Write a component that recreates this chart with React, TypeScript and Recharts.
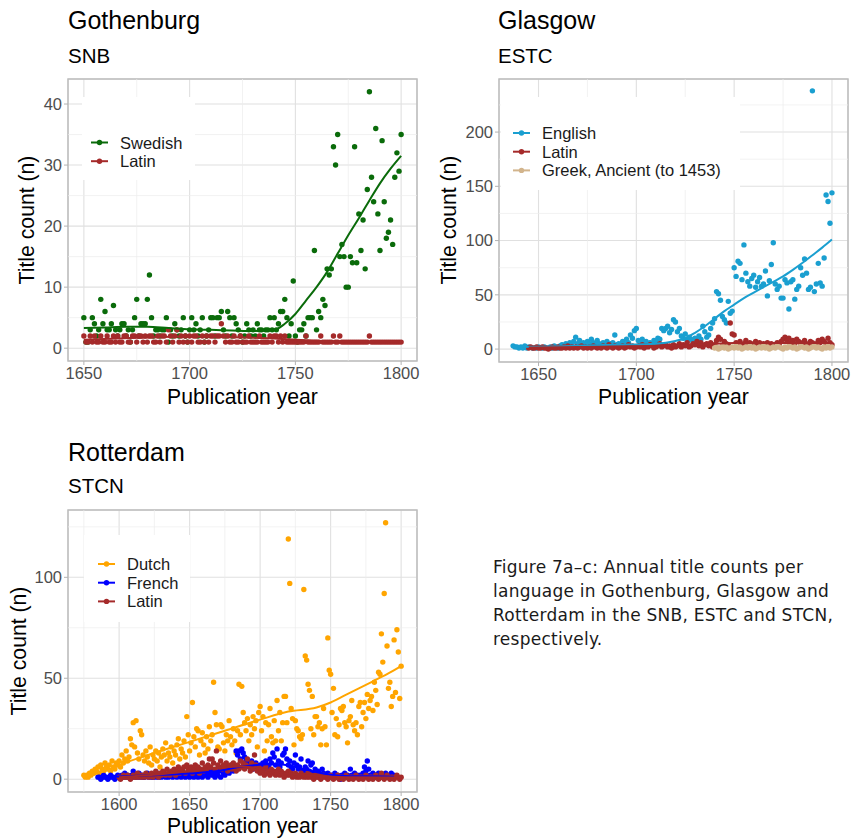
import {
  ScatterChart,
  Scatter,
  XAxis,
  YAxis,
  CartesianGrid,
  ReferenceLine,
  ReferenceArea,
} from "recharts";

// ---- Gothenburg (SNB), one value per year from gothStart ----
const gothStart = 1650;
const gothSwedish = [
  5, 1, 1, 3, 5, 4, 2, 3, 8, 4,
  6, 3, 3, 4, 7, 3, 2, 3, 4, 4,
  2, 3, 1, 3, 5, 8, 2, 4, 4, 4,
  8, 12, 5, 2, 3, 3, 2, 3, 3, 5,
  1, 3, 2, 4, 3, 2, 3, 5, 2, 1,
  3, 5, 3, 4, 2, 3, 5, 1, 2, 3,
  5, 5, 2, 5, 5, 6, 3, 2, 6, 5,
  2, 5, 4, 3, 2, 1, 2, 4, 3, 2,
  3, 2, 4, 3, 3, 2, 3, 3, 5, 3,
  5, 3, 4, 6, 6, 8, 5, 2, 4, 11,
  2, 1, 3, 3, 4, 2, 5, 5, 5, 16,
  3, 6, 5, 8, 7, 13, 12, 13, 33, 30,
  35, 15, 17, 15, 10, 10, 15, 14, 33, 14,
  22, 16, 21, 13, 26, 42, 28, 24, 36, 22,
  16, 34, 24, 18, 19, 21, 17, 28, 32, 29,
  35,
];
const gothLatin = [
  2, 1, 1, 2, 1, 2, 1, 1, 2, 1,
  1, 2, 1, 1, 2, 1, 2, 1, 1, 2,
  2, 1, 1, 2, 2, 1, 2, 2, 1, 2,
  1, 2, 2, 1, 1, 2, 1, 2, 2, 1,
  3, 2, 1, 2, 3, 1, 2, 1, 2, 1,
  2, 1, 2, 2, 1, 1, 2, 1, 2, 1,
  2, 2, 1, 2, 2, 4, 2, 1, 2, 1,
  1, 2, 1, 1, 2, 1, 1, 1, 2, 1,
  1, 1, 1, 2, 1, 1, 1, 1, 2, 1,
  2, 2, 1, 2, 1, 2, 1, 1, 1, 1,
  1, 1, 1, 1, 1, 2, 1, 1, 1, 1,
  1, 1, 2, 1, 1, 1, 1, 1, 2, 1,
  1, 2, 1, 1, 1, 1, 1, 1, 1, 1,
  1, 1, 1, 1, 1, 2, 1, 1, 1, 1,
  1, 1, 1, 1, 1, 1, 1, 1, 1, 1,
  1,
];
const gothSwedishSmooth = [
  [1650, 3.3], [1660, 3.4], [1670, 3.5], [1680, 3.5], [1690, 3.3], [1700, 3.1],
  [1710, 3.0], [1720, 2.9], [1730, 2.8], [1740, 3.0], [1745, 4.0], [1750, 5.6],
  [1755, 7.8], [1760, 10.0], [1765, 12.5], [1770, 15.5], [1775, 18.5], [1780, 21.3],
  [1785, 24.2], [1790, 27.0], [1795, 29.4], [1800, 31.5],
];
const gothLatinSmooth = [
  [1650, 1.4], [1675, 1.7], [1700, 1.9], [1720, 1.8], [1740, 1.6], [1760, 1.2],
  [1780, 1.1], [1800, 1.0],
];

// ---- Glasgow (ESTC) ----
const glaEnglishStart = 1637;
const glaEnglish = [
  3, 2, 2, 1, 2, 1, 3, 1, 2, null, 1, null, 1,
  2, null, 1, 2, null, 1, 2, 1, 3, 2,
  1, 3, 4, 2, 5, 3, 6, 4, 7, 11,
  5, 8, 4, 6, 3, 7, 5, 9, 6, 4,
  8, 5, 3, 6, 4, 7, 3, 5, 6, 13,
  4, 5, 3, 7, 5, 9, 6, 13, 10, 17,
  19, 8, 6, 9, 5, 7, 4, 6, 5, 8,
  6, 10, 9, 19, 17, 19, 21, 15, 18, 27,
  25, 16, 19, 12, 10, 14, 8, 11, 9, 7,
  10, 8, 12, 9, 21, 16, 11, 13, 19, 24,
  28, 53, 51, 45, 30, 27, 24, 44, 33, 35,
  75, 67, 81, 79, 64, 96, 70, 62, 58, 65,
  68, 57, 62, 66, 58, 60, 72, 49, 63, 78,
  98, 60, 55, 58, 47, 47, 64, 61, 37, 62,
  64, 46, 55, 58, 75, 68, 83, 70, 55, 57,
  238, 53, 60, 79, 61, 58, 84, 142, 136, 116,
  144,
];
const glaLatinStart = 1645;
const glaLatin = [
  1, 2, 1, 1, 2,
  1, 1, 2, 1, 1, 0, 1, 2, 1, 1,
  2, 1, 1, 2, 1, 3, 1, 2, 1, 2,
  1, 2, 3, 1, 2, 1, 2, 1, 3, 2,
  1, 2, 1, 3, 2, 1, 4, 2, 1, 3,
  2, 1, 2, 3, 1, 2, 4, 2, 3, 1,
  2, 3, 2, 4, 1, 3, 2, 4, 3, 1,
  2, 3, 5, 2, 3, 4, 2, 3, 1, 4,
  2, 3, 5, 2, 4, 3, 6, 2, 3, 5,
  4, 7, 3, 6, 2, 4, 5, 3, 6, 2,
  4, 8, 11, 9, 3, 7, 5, 4, 24, 14,
  13, 6, 4, 7, 3, 5, 8, 4, 6, 3,
  5, 7, 4, 6, 3, 5, 4, 6, 3, 5,
  4, 3, 6, 4, 7, 9, 11, 8, 10, 6,
  8, 5, 9, 7, 4, 6, 8, 5, 3, 7,
  6, 4, 5, 8, 6, 9, 7, 5, 10, 6,
  4,
];
const glaGreekStart = 1740;
const glaGreek = [
  1, 2, 0, 1, 3, 1, 2, 0, 1, 2,
  1, 3, 1, 2, 0, 1, 2, 1, 3, 1,
  2, 0, 1, 2, 1, 3, 1, 2, 0, 1,
  2, 1, 3, 2, 1, 0, 2, 1, 3, 2,
  1, 2, 0, 1, 3, 2, 1, 2, 0, 1,
  2, 3, 1, 2, 1, 0, 2, 1, 3, 1,
  2,
];
const glaEnglishSmooth = [
  [1637, 2], [1650, 2.2], [1670, 3], [1690, 4], [1710, 5], [1720, 7.5],
  [1725, 10], [1730, 15], [1735, 21], [1740, 28], [1745, 35], [1750, 41],
  [1755, 47], [1760, 52], [1765, 57], [1770, 62], [1775, 67], [1780, 73],
  [1785, 79.5], [1790, 86.5], [1795, 93.5], [1800, 101],
];
const glaLatinSmooth = [
  [1645, 1.5], [1670, 1.9], [1700, 2.6], [1720, 3.4], [1735, 4.5], [1750, 5.5],
  [1770, 5.5], [1800, 5.6],
];
const glaGreekSmooth = [[1741, 2.2], [1770, 1.8], [1800, 1.6]];

// ---- Rotterdam (STCN) ----
const rotDutchStart = 1575;
const rotDutch = [
  2, 1, 2, 1, 3, 2, 4, 3, 5, 4, 6, 3, 7, 5, 4, 8, 6, 5, 7, 4, 9, 6, 5, 8, 7, 9,
  6, 12, 8, 10, 14, 9, 11, 20, 17, 28, 16, 29, 13, 10, 24, 22, 12, 9, 14, 11, 8, 16, 7, 12, 10,
  14, 9, 13, 6, 11, 15, 12, 18, 9, 13, 11, 16, 8, 14, 12, 17, 20, 10, 15, 13, 19, 11, 31, 22, 14,
  18, 38, 21, 16, 25, 24, 12, 19, 23, 17, 13, 21, 15, 26, 19, 22, 48, 33, 27, 16, 15, 27, 26, 18, 14,
  22, 19, 29, 21, 17, 25, 19, 13, 24, 47, 22, 46, 33, 28, 24, 30, 19, 27, 22, 31, 25, 29, 16, 33, 36,
  24, 31, 14, 28, 19, 27, 35, 21, 18, 29, 19, 39, 24, 33, 19, 28, 41, 41, 28, 119, 97, 35, 30, 17, 29,
  25, 24, 21, 20, 22, 94, 61, 59, 47, 44, 25, 41, 22, 31, 31, 26, 28, 17, 25, 35, 26, 17, 70, 54, 52,
  33, 45, 22, 30, 21, 27, 35, 34, 36, 28, 26, 18, 29, 31, 39, 27, 24, 28, 22, 36, 38, 26, 33, 38, 30,
  42, 35, 39, 41, 34, 48, 44, 37, 53, 52, 72, 58, 92, 127, 66, 45, 48, 36, 41, 69, 43, 74, 63, 40, 56,
];
const rotFrenchStart = 1585;
const rotFrench = [
  1, 1, 0, 1, 2, 1, 1, 0, 1, 2, 1, 1, 0, 1, 2, 1,
  1, 2, 1, 3, 1, 2, 1, 1, 2, 4, 1, 2, 1, 3, 1, 2, 1, 1, 2, 3,
  1, 2, 1, 1, 2, 1, 3, 1, 2, 1, 2, 3, 1, 2, 1, 3, 2, 1, 4, 2,
  1, 3, 2, 1, 4, 2, 1, 3, 2, 1, 3, 4, 1, 2, 3, 1, 5, 2, 1, 3,
  2, 4, 1, 3, 5, 2, 4, 1, 3, 2, 4, 1, 5, 3, 2, 4, 6, 3, 5, 7,
  4, 6, 14, 12, 14, 10, 15, 13, 11, 9, 7, 8, 6, 9, 5, 7, 8, 6, 5, 7,
  6, 8, 5, 9, 7, 6, 10, 8, 13, 11, 7, 15, 9, 6, 8, 12, 13, 15, 10, 7,
  9, 6, 5, 8, 12, 7, 5, 6, 10, 4, 3, 6, 5, 9, 4, 7, 8, 3, 5, 2,
  4, 3, 2, 5, 3, 2, 1, 3, 2, 1, 2, 1, 3, 1, 2, 1, 0, 2, 1, 3,
  1, 2, 1, 5, 2, 1, 3, 1, 2, 1, 2, 1, 3, 6, 4, 9, 5, 2, 1, 3,
  1, 2, 1, 3, 1, 2, 1, 2, 3, 1, 2, 1, 3, 1, 2,
];
const rotLatinStart = 1600;
const rotLatin = [
  1,
  0, 1, 2, 1, 1, 2, 1, 0, 1, 2, 1, 1, 3, 1, 2, 1, 2, 1, 3, 2,
  1, 2, 3, 1, 2, 4, 2, 1, 3, 2, 4, 3, 2, 5, 3, 2, 4, 3, 5, 2,
  4, 6, 3, 5, 4, 6, 3, 7, 5, 4, 6, 3, 5, 7, 4, 6, 3, 5, 8, 4,
  6, 5, 7, 10, 6, 10, 8, 5, 14, 7, 6, 9, 5, 7, 6, 8, 4, 6, 7, 5,
  8, 6, 4, 7, 5, 9, 6, 8, 5, 7, 10, 6, 4, 8, 5, 12, 7, 4, 6, 3,
  5, 4, 2, 6, 3, 4, 2, 5, 3, 4, 2, 3, 5, 2, 4, 3, 1, 3, 2, 4,
  2, 3, 1, 2, 3, 1, 2, 1, 3, 2, 1, 2, 1, 3, 1, 2, 1, 0, 2, 1,
  1, 2, 0, 1, 2, 1, 1, 0, 1, 2, 1, 0, 1, 1, 2, 0, 1, 1, 0, 1,
  2, 1, 0, 1, 1, 0, 1, 2, 1, 0, 1, 1, 0, 1, 2, 1, 0, 1, 1, 0,
  1, 2, 1, 0, 1, 3, 1, 0, 1, 2, 1, 0, 1, 1, 0, 1, 2, 1, 0, 1,
];
const rotDutchSmooth = [
  [1575, 1], [1590, 4], [1600, 7], [1625, 13], [1650, 18.5], [1675, 24],
  [1700, 29.5], [1720, 33.5], [1740, 35.5], [1750, 38], [1760, 41.5], [1770, 45],
  [1780, 48.5], [1790, 52], [1800, 56],
];
const rotFrenchSmooth = [
  [1585, 1], [1600, 1.3], [1625, 2], [1650, 2.8], [1670, 4], [1685, 6],
  [1700, 7.2], [1710, 7.5], [1720, 6.8], [1730, 5.2], [1740, 3.5], [1750, 2.2],
  [1760, 1.6], [1775, 1.4], [1795, 1.2],
];
const rotLatinSmooth = [
  [1600, 1], [1625, 2.2], [1650, 4], [1670, 5.5], [1685, 6.3], [1695, 5.8],
  [1705, 4.5], [1720, 2.8], [1740, 1.6], [1760, 1], [1800, 0.8],
];

type Pt = { year: number; n: number };

const toPoints = (start: number, vals: (number | null)[]): Pt[] =>
  vals
    .map((n, i) => ({ year: start + i, n }))
    .filter((d): d is Pt => d.n !== null);

const toCurve = (pairs: number[][]): Pt[] => pairs.map(([year, n]) => ({ year, n }));

type Series = { name: string; color: string; points: Pt[]; smooth: Pt[] };

const GREEN = "#0A6B0A";
const BROWN = "#A52A2A";
const SKY = "#1A9FD0";
const TAN = "#D2B48C";
const ORANGE = "#FFA500";
const BLUE = "#0000FF";

const gothSeries: Series[] = [
  { name: "Swedish", color: GREEN, points: toPoints(gothStart, gothSwedish), smooth: toCurve(gothSwedishSmooth) },
  { name: "Latin", color: BROWN, points: toPoints(gothStart, gothLatin), smooth: toCurve(gothLatinSmooth) },
];
const glaSeries: Series[] = [
  { name: "English", color: SKY, points: toPoints(glaEnglishStart, glaEnglish), smooth: toCurve(glaEnglishSmooth) },
  { name: "Latin", color: BROWN, points: toPoints(glaLatinStart, glaLatin), smooth: toCurve(glaLatinSmooth) },
  { name: "Greek, Ancient (to 1453)", color: TAN, points: toPoints(glaGreekStart, glaGreek), smooth: toCurve(glaGreekSmooth) },
];
const rotSeries: Series[] = [
  { name: "Dutch", color: ORANGE, points: toPoints(rotDutchStart, rotDutch), smooth: toCurve(rotDutchSmooth) },
  { name: "French", color: BLUE, points: toPoints(rotFrenchStart, rotFrench), smooth: toCurve(rotFrenchSmooth) },
  { name: "Latin", color: BROWN, points: toPoints(rotLatinStart, rotLatin), smooth: toCurve(rotLatinSmooth) },
];

const FONT = "'Liberation Sans', Arial, sans-serif";
const tickStyle = { fill: "#4D4D4D", fontSize: 16.5, fontFamily: FONT };

type PanelProps = {
  plot: { x: number; y: number; w: number; h: number };
  xDomain: [number, number];
  yDomain: [number, number];
  xTicks: number[];
  yTicks: number[];
  xMinor: number[];
  yMinor: number[];
  series: Series[];
};

function Panel({ plot, xDomain, yDomain, xTicks, yTicks, xMinor, yMinor, series }: PanelProps) {
  return (
    <div style={{ position: "absolute", left: plot.x - 60, top: plot.y - 10 }}>
      <ScatterChart
        width={plot.w + 66}
        height={plot.h + 40}
        margin={{ top: 10, right: 6, bottom: 0, left: 0 }}
      >
        <CartesianGrid stroke="#E0E0E0" strokeWidth={1.1} />
        {xMinor.map((v) => (
          <ReferenceLine key={"xm" + v} x={v} stroke="#EDEDED" strokeWidth={0.7} />
        ))}
        {yMinor.map((v) => (
          <ReferenceLine key={"ym" + v} y={v} stroke="#EDEDED" strokeWidth={0.7} />
        ))}
        <XAxis
          type="number"
          dataKey="year"
          domain={xDomain}
          ticks={xTicks}
          interval={0}
          allowDataOverflow
          axisLine={false}
          tickLine={{ stroke: "#B3B3B3" }}
          tickSize={4}
          tickMargin={2}
          tick={tickStyle}
          height={30}
        />
        <YAxis
          type="number"
          dataKey="n"
          domain={yDomain}
          ticks={yTicks}
          interval={0}
          allowDataOverflow
          axisLine={false}
          tickLine={{ stroke: "#B3B3B3" }}
          tickSize={4}
          tickMargin={2}
          tick={tickStyle}
          width={60}
        />
        {series.map((s) => (
          <Scatter
            key={s.name + "-pts"}
            data={s.points}
            fill={s.color}
            isAnimationActive={false}
            shape={(p: any) => <circle cx={p.cx} cy={p.cy} r={2.7} fill={s.color} />}
          />
        ))}
        {series.map((s) => (
          <Scatter
            key={s.name + "-fit"}
            data={s.smooth}
            fill={s.color}
            isAnimationActive={false}
            line={{ stroke: s.color, strokeWidth: 2, fill: "none" }}
            lineJointType="monotoneX"
            shape={() => <g />}
          />
        ))}
        <ReferenceArea
          x1={xDomain[0]}
          x2={xDomain[1]}
          y1={yDomain[0]}
          y2={yDomain[1]}
          fill="none"
          stroke="#BDBDBD"
          strokeWidth={1.5}
        />
      </ScatterChart>
    </div>
  );
}

type LegendBox = {
  box: { x: number; y: number; w: number; h: number };
  keyX: number;
  textX: number;
  firstRow: number;
  series: Series[];
};

function Legend({ box, keyX, textX, firstRow, series }: LegendBox) {
  return (
    <g>
      <rect x={box.x} y={box.y} width={box.w} height={box.h} fill="#FFFFFF" />
      {series.map((s, i) => {
        const cy = firstRow + i * 18.7;
        return (
          <g key={s.name}>
            <line x1={keyX} x2={keyX + 17} y1={cy} y2={cy} stroke={s.color} strokeWidth={2} />
            <circle cx={keyX + 8.5} cy={cy} r={2.7} fill={s.color} />
            <text x={textX} y={cy + 6} fontSize={16.5} fill="#1A1A1A" fontFamily={FONT}>
              {s.name}
            </text>
          </g>
        );
      })}
    </g>
  );
}

export default function App() {
  return (
    <div
      style={{
        position: "absolute",
        left: 0,
        top: 0,
        width: 856,
        height: 840,
        overflow: "hidden",
        background: "#FFFFFF",
      }}
    >
      <Panel
        plot={{ x: 68, y: 79, w: 349, h: 282 }}
        xDomain={[1642.5, 1807.5]}
        yDomain={[-2.1, 44.1]}
        xTicks={[1650, 1700, 1750, 1800]}
        yTicks={[0, 10, 20, 30, 40]}
        xMinor={[1675, 1725, 1775]}
        yMinor={[5, 15, 25, 35]}
        series={gothSeries}
      />
      <Panel
        plot={{ x: 499, y: 79, w: 349, h: 283 }}
        xDomain={[1629.8, 1808.2]}
        yDomain={[-11.9, 248.9]}
        xTicks={[1650, 1700, 1750, 1800]}
        yTicks={[0, 50, 100, 150, 200]}
        xMinor={[1675, 1725, 1775]}
        yMinor={[25, 75, 125, 175, 225]}
        series={glaSeries}
      />
      <Panel
        plot={{ x: 68, y: 510, w: 349, h: 282 }}
        xDomain={[1563.75, 1811.25]}
        yDomain={[-6.35, 133.35]}
        xTicks={[1600, 1650, 1700, 1750, 1800]}
        yTicks={[0, 50, 100]}
        xMinor={[1575, 1625, 1675, 1725, 1775]}
        yMinor={[25, 75, 125]}
        series={rotSeries}
      />
      <svg
        width={856}
        height={840}
        style={{ position: "absolute", left: 0, top: 0, pointerEvents: "none" }}
      >
        <g fontFamily={FONT} fill="#000000">
          <text x={68} y={29} fontSize={25}>Gothenburg</text>
          <text x={68} y={63} fontSize={20.5}>SNB</text>
          <text x={498} y={29} fontSize={25}>Glasgow</text>
          <text x={498} y={63} fontSize={20.5}>ESTC</text>
          <text x={68} y={461} fontSize={25}>Rotterdam</text>
          <text x={68} y={493} fontSize={20.5}>STCN</text>

          <text x={242.5} y={404} fontSize={21.2} textAnchor="middle">Publication year</text>
          <text x={673.5} y={404} fontSize={21.2} textAnchor="middle">Publication year</text>
          <text x={242.5} y={833} fontSize={21.2} textAnchor="middle">Publication year</text>

          <text transform="translate(34,220) rotate(-90)" fontSize={21.2} textAnchor="middle">Title count (n)</text>
          <text transform="translate(456,220) rotate(-90)" fontSize={21.2} textAnchor="middle">Title count (n)</text>
          <text transform="translate(26,651) rotate(-90)" fontSize={21.2} textAnchor="middle">Title count (n)</text>
        </g>

        <Legend box={{ x: 82, y: 97, w: 113, h: 83 }} keyX={91} textX={120} firstRow={142.5} series={gothSeries} />
        <Legend box={{ x: 501, y: 97, w: 239, h: 93 }} keyX={513} textX={542} firstRow={133} series={glaSeries} />
        <Legend box={{ x: 84, y: 535, w: 106, h: 87 }} keyX={98} textX={127} firstRow={564} series={rotSeries} />

        <text x={493} fontSize={17} letterSpacing={0.25} fill="#1A1A1A" fontFamily="'DejaVu Sans', sans-serif">
          <tspan x={493} y={573}>Figure 7a–c: Annual title counts per</tspan>
          <tspan x={493} y={597}>language in Gothenburg, Glasgow and</tspan>
          <tspan x={493} y={621}>Rotterdam in the SNB, ESTC and STCN,</tspan>
          <tspan x={493} y={645}>respectively.</tspan>
        </text>
      </svg>
    </div>
  );
}
